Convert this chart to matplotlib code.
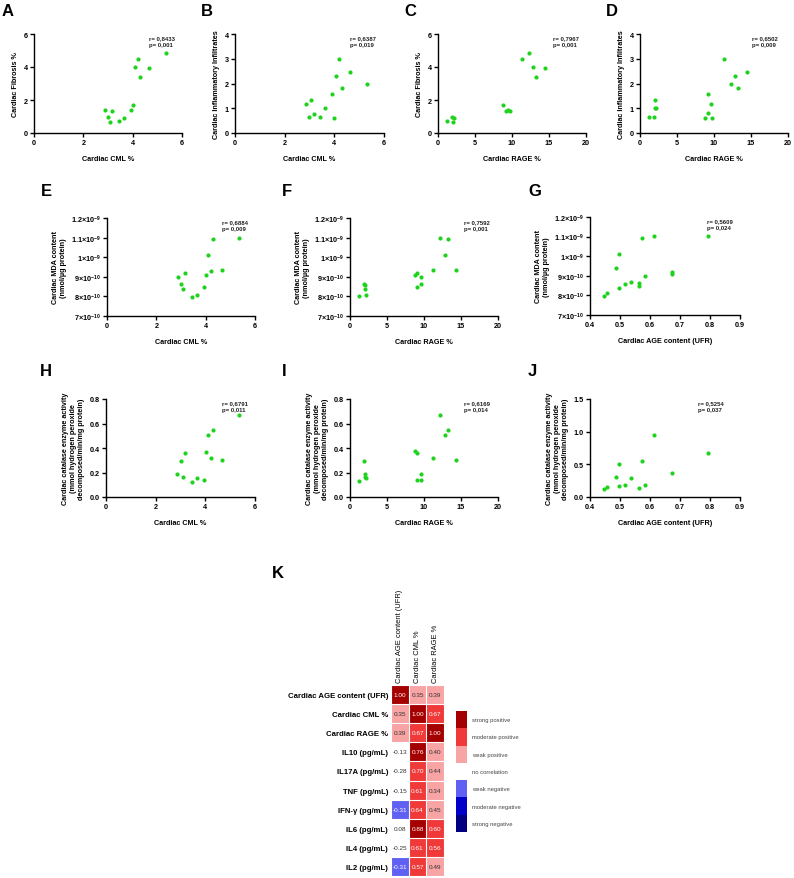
import numpy as np
import matplotlib
matplotlib.use('Agg')
import matplotlib.pyplot as plt
from matplotlib.colors import ListedColormap, BoundaryNorm

plt.rcParams['font.family'] = ['Liberation Sans', 'DejaVu Sans']
plt.rcParams['font.weight'] = 'bold'
plt.rcParams['mathtext.fontset'] = 'custom'
plt.rcParams['mathtext.rm'] = 'Liberation Sans:bold'
plt.rcParams['mathtext.it'] = 'Liberation Sans:bold'
plt.rcParams['mathtext.bf'] = 'Liberation Sans:bold'

# ---- data ----
# A: CML vs fibrosis
a_cml = [2.86, 3.01, 3.07, 3.18, 3.45, 3.65, 3.92, 4.03, 4.08, 4.21, 4.31, 4.66, 5.34]
a_fib = [1.41, 0.95, 0.65, 1.31, 0.75, 0.91, 1.39, 1.70, 4.00, 4.46, 3.39, 3.96, 4.83]
# B: CML vs inflammatory infiltrates
b_cml = [2.85, 2.99, 3.06, 3.17, 3.42, 3.62, 3.89, 4.00, 4.07, 4.20, 4.30, 4.63, 5.33]
b_inf = [1.17, 0.66, 1.32, 0.78, 0.66, 1.00, 1.58, 0.61, 2.32, 2.98, 1.82, 2.48, 1.99]
# C: RAGE vs fibrosis
c_rage = [1.26, 1.85, 2.03, 2.17, 8.80, 9.20, 9.50, 9.70, 11.33, 12.30, 12.87, 13.30, 14.40]
c_fib = [0.75, 0.95, 0.65, 0.91, 1.70, 1.31, 1.41, 1.33, 4.46, 4.83, 4.00, 3.39, 3.96]
# D: RAGE vs inflammatory infiltrates
d_rage = [1.26, 1.89, 1.98, 2.00, 2.20, 8.80, 9.20, 9.20, 9.66, 9.70, 11.33, 12.27, 12.85, 13.30, 14.40]
d_inf = [0.66, 0.66, 1.32, 1.00, 1.00, 0.61, 0.80, 1.58, 1.19, 0.61, 2.98, 1.98, 2.30, 1.82, 2.48]
# E: CML vs MDA
e_cml = [2.86, 3.01, 3.07, 3.18, 3.45, 3.65, 3.92, 4.03, 4.10, 4.22, 4.31, 4.66, 5.35]
e_mda = [8.97e-10, 8.65e-10, 8.36e-10, 9.21e-10, 7.99e-10, 8.05e-10, 8.48e-10, 9.07e-10,
         1.010e-9, 9.31e-10, 1.093e-9, 9.35e-10, 1.099e-9]
# F: RAGE vs MDA
f_rage = [1.26, 1.84, 1.98, 1.98, 2.16, 8.72, 9.12, 9.12, 9.62, 9.62, 11.28, 12.22, 12.81, 13.26, 14.34]
f_mda = [8.00e-10, 8.65e-10, 8.56e-10, 8.36e-10, 8.05e-10, 9.07e-10, 9.21e-10, 8.46e-10,
         8.97e-10, 8.62e-10, 9.33e-10, 1.099e-9, 1.010e-9, 1.095e-9, 9.35e-10]
# G: AGE vs MDA
g_age = [0.446, 0.457, 0.486, 0.496, 0.496, 0.516, 0.536, 0.564, 0.564, 0.574, 0.584, 0.614,
         0.673, 0.673, 0.793]
g_mda = [7.99e-10, 8.13e-10, 9.42e-10, 1.011e-9, 8.38e-10, 8.57e-10, 8.66e-10, 8.62e-10,
         8.47e-10, 1.094e-9, 8.98e-10, 1.101e-9, 9.20e-10, 9.08e-10, 1.101e-9]
# H: CML vs catalase
h_cml = [2.87, 3.01, 3.09, 3.19, 3.46, 3.66, 3.93, 4.04, 4.11, 4.23, 4.32, 4.67, 5.36]
h_cat = [0.184, 0.29, 0.16, 0.36, 0.125, 0.155, 0.136, 0.369, 0.507, 0.315, 0.548, 0.30, 0.67]
# I: RAGE vs catalase
i_rage = [1.26, 1.84, 1.98, 1.98, 2.16, 8.72, 9.12, 9.12, 9.62, 9.62, 11.28, 12.22, 12.81, 13.26, 14.34]
i_cat = [0.13, 0.293, 0.19, 0.165, 0.157, 0.374, 0.363, 0.138, 0.136, 0.184, 0.317, 0.672,
         0.51, 0.55, 0.30]
# J: AGE vs catalase
j_age = [0.446, 0.457, 0.486, 0.496, 0.496, 0.516, 0.536, 0.564, 0.574, 0.584, 0.614, 0.673, 0.793]
j_cat = [0.127, 0.153, 0.31, 0.508, 0.163, 0.183, 0.29, 0.137, 0.549, 0.188, 0.951, 0.366, 0.671]

r_vals = ['0,8433', '0,6387', '0,7967', '0,6502', '0,6884', '0,7592', '0,5609', '0,6791', '0,6169', '0,5254']
p_vals = ['0,001', '0,019', '0,001', '0,009', '0,009', '0,001', '0,024', '0,011', '0,014', '0,037']

# K: correlation matrix
heat_cols = ['Cardiac AGE content (UFR)', 'Cardiac CML %', 'Cardiac RAGE %']
heat_rows = ['Cardiac AGE content (UFR)', 'Cardiac CML %', 'Cardiac RAGE %', 'IL10 (pg/mL)',
             'IL17A (pg/mL)', 'TNF (pg/mL)', 'IFN-γ (pg/mL)', 'IL6 (pg/mL)', 'IL4 (pg/mL)',
             'IL2 (pg/mL)']
heat_vals = [[1.00, 0.35, 0.39],
             [0.35, 1.00, 0.67],
             [0.39, 0.67, 1.00],
             [-0.13, 0.76, 0.40],
             [-0.28, 0.70, 0.44],
             [-0.15, 0.61, 0.34],
             [-0.31, 0.64, 0.45],
             [0.08, 0.88, 0.60],
             [-0.25, 0.61, 0.56],
             [-0.31, 0.57, 0.49]]
legend_labels = ['strong positive', 'moderate positive', 'weak positive', 'no correlation',
                 'weak negative', 'moderate negative', 'strong negative']

# ---- layout ----
W, H = 794, 879
fig = plt.figure(figsize=(W / 100, H / 100), dpi=100)


def ax_at(l, t, r, b):
    return fig.add_axes([l / W, 1 - b / H, (r - l) / W, (b - t) / H])


GREEN = '#1ed21e'
FS = 5.2


def scatter_panel(box, x, y, xlim, xticks, ylim, yticks, xlabel, ylabel, r, p, tx,
                  yticklabels=None, letter=None):
    ax = ax_at(*box)
    ax.scatter(x, y, s=9, color=GREEN, linewidths=0, zorder=3, clip_on=False)
    ax.set_xlim(xlim)
    ax.set_ylim(ylim)
    ax.set_xticks(xticks)
    ax.set_yticks(yticks)
    if yticklabels is not None:
        ax.set_yticklabels(yticklabels)
    for s in ['top', 'right']:
        ax.spines[s].set_visible(False)
    for s in ['left', 'bottom']:
        ax.spines[s].set_linewidth(1.0)
    ax.tick_params(labelsize=FS, width=1.0, length=3, pad=1.5)
    for lab in ax.get_xticklabels() + ax.get_yticklabels():
        lab.set_fontweight('bold')
    ax.set_xlabel(xlabel, fontsize=FS, fontweight='bold', labelpad=6)
    ax.set_ylabel(ylabel, fontsize=FS, fontweight='bold', labelpad=3)
    ax.text(tx, 0.99, f'r= {r}\np= {p}', transform=ax.transAxes, fontsize=4.3,
            fontweight='bold', va='top', ha='left', linespacing=1.4, color='#222222')
    if letter is not None:
        fig.text(letter[1] / W, 1 - letter[2] / H, letter[0], fontsize=12,
                 fontweight='bold', ha='left', va='center')
    return ax


mda_ticks = [7e-10, 8e-10, 9e-10, 1e-9, 1.1e-9, 1.2e-9]
mda_labels = [r'$7{\times}10^{-10}$', r'$8{\times}10^{-10}$', r'$9{\times}10^{-10}$',
              r'$1{\times}10^{-9}$', r'$1.1{\times}10^{-9}$', r'$1.2{\times}10^{-9}$']
cat_label = 'Cardiac catalase enzyme activity\n(mmol hydrogen peroxide\ndecomposed/min/mg protein)'
mda_label = 'Cardiac MDA content\n(nmol/µg protein)'

scatter_panel((34, 35, 182, 134), a_cml, a_fib, (0, 6), [0, 2, 4, 6], (0, 6), [0, 2, 4, 6],
              'Cardiac CML %', 'Cardiac Fibrosis %', r_vals[0], p_vals[0], 0.78, letter=('A', 2, 11))
scatter_panel((235, 35, 384, 134), b_cml, b_inf, (0, 6), [0, 2, 4, 6], (0, 4), [0, 1, 2, 3, 4],
              'Cardiac CML %', 'Cardiac Inflammatory Infiltrates', r_vals[1], p_vals[1], 0.77,
              letter=('B', 201, 11))
scatter_panel((438, 35, 586, 134), c_rage, c_fib, (0, 20), [0, 5, 10, 15, 20], (0, 6), [0, 2, 4, 6],
              'Cardiac RAGE %', 'Cardiac Fibrosis %', r_vals[2], p_vals[2], 0.78, letter=('C', 404, 11))
scatter_panel((640, 35, 788, 134), d_rage, d_inf, (0, 20), [0, 5, 10, 15, 20], (0, 4), [0, 1, 2, 3, 4],
              'Cardiac RAGE %', 'Cardiac Inflammatory Infiltrates', r_vals[3], p_vals[3], 0.76,
              letter=('D', 606, 11))

scatter_panel((107, 219, 255, 317), e_cml, e_mda, (0, 6), [0, 2, 4, 6], (7e-10, 1.2e-9), mda_ticks,
              'Cardiac CML %', mda_label, r_vals[4], p_vals[4], 0.78, mda_labels, ('E', 41, 191))
scatter_panel((350, 219, 498, 317), f_rage, f_mda, (0, 20), [0, 5, 10, 15, 20], (7e-10, 1.2e-9),
              mda_ticks, 'Cardiac RAGE %', mda_label, r_vals[5], p_vals[5], 0.77, mda_labels,
              ('F', 282, 191))
scatter_panel((590, 218, 740, 316), g_age, g_mda, (0.4, 0.9), [0.4, 0.5, 0.6, 0.7, 0.8, 0.9],
              (7e-10, 1.2e-9), mda_ticks, 'Cardiac AGE content (UFR)', mda_label, r_vals[6],
              p_vals[6], 0.78, mda_labels, ('G', 528, 191))

scatter_panel((106, 400, 255, 498), h_cml, h_cat, (0, 6), [0, 2, 4, 6], (0, 0.8),
              [0.0, 0.2, 0.4, 0.6, 0.8], 'Cardiac CML %', cat_label, r_vals[7], p_vals[7], 0.78,
              ['0.0', '0.2', '0.4', '0.6', '0.8'], ('H', 40, 371))
scatter_panel((350, 400, 498, 498), i_rage, i_cat, (0, 20), [0, 5, 10, 15, 20], (0, 0.8),
              [0.0, 0.2, 0.4, 0.6, 0.8], 'Cardiac RAGE %', cat_label, r_vals[8], p_vals[8], 0.77,
              ['0.0', '0.2', '0.4', '0.6', '0.8'], ('I', 282, 371))
scatter_panel((590, 400, 740, 498), j_age, j_cat, (0.4, 0.9), [0.4, 0.5, 0.6, 0.7, 0.8, 0.9],
              (0, 1.5), [0.0, 0.5, 1.0, 1.5], 'Cardiac AGE content (UFR)', cat_label, r_vals[9],
              p_vals[9], 0.72, ['0.0', '0.5', '1.0', '1.5'], ('J', 528, 371))

# ---- K heatmap ----
level_colors = ['#000080', '#0000c8', '#6060f2', '#ffffff', '#f8a4a4', '#f03a3a', '#a50000']
bounds = [-1.0, -0.7, -0.5, -0.3, 0.3, 0.5, 0.705, 1.0]
cmap = ListedColormap(level_colors)
norm = BoundaryNorm(bounds, cmap.N)

vals = np.array(heat_vals)
axk = ax_at(391, 686, 444, 877)
axk.imshow(vals, cmap=cmap, norm=norm, aspect='auto')
axk.set_xticks(np.arange(len(heat_cols)))
axk.set_yticks(np.arange(len(heat_rows)))
axk.set_xticklabels(heat_cols, rotation=90, fontsize=5.4, fontweight='normal')
axk.set_yticklabels(heat_rows, fontsize=5.6, fontweight='bold')
axk.xaxis.tick_top()
axk.tick_params(length=0, pad=2)
axk.set_xticks(np.arange(-0.5, len(heat_cols), 1), minor=True)
axk.set_yticks(np.arange(-0.5, len(heat_rows), 1), minor=True)
axk.grid(which='minor', color='white', linewidth=0.8)
axk.tick_params(which='minor', length=0)
for s in axk.spines.values():
    s.set_visible(False)
for i in range(vals.shape[0]):
    for j in range(vals.shape[1]):
        v = vals[i, j]
        light = abs(v) < 0.5 and not v <= -0.3
        axk.text(j, i, f'{v:.2f}', ha='center', va='center', fontsize=4.6,
                 fontweight='normal', color='#333333' if light else 'white')
fig.text(272 / W, 1 - 574 / H, 'K', fontsize=12, fontweight='bold', ha='left', va='center')

# legend boxes
axl = ax_at(456, 712, 467, 833)
axl.imshow(np.arange(7)[::-1].reshape(-1, 1), cmap=cmap, aspect='auto')
axl.set_xticks([])
axl.set_yticks([])
for s in axl.spines.values():
    s.set_visible(False)
for k, lab in enumerate(legend_labels):
    axl.text(1.0, k, lab, fontsize=4.2, fontweight='normal', color='#444444',
             ha='left', va='center', clip_on=False)

fig.savefig('out.png', dpi=100)
